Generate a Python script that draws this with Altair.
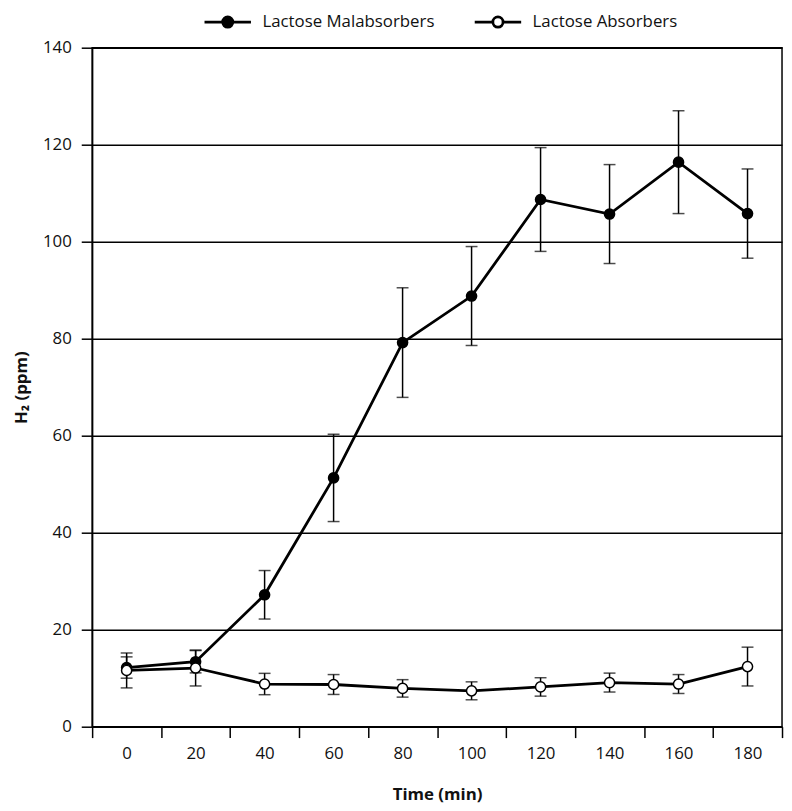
import altair as alt
import pandas as pd

times = [0, 20, 40, 60, 80, 100, 120, 140, 160, 180]
mal_mean = [12.2, 13.4, 27.2, 51.3, 79.2, 88.8, 108.7, 105.7, 116.4, 105.8]
mal_err = [2.2, 2.3, 5.0, 9.0, 11.3, 10.2, 10.7, 10.2, 10.6, 9.2]
abs_mean = [11.6, 12.1, 8.8, 8.7, 7.9, 7.4, 8.2, 9.1, 8.8, 12.4]
abs_err = [3.6, 3.7, 2.2, 2.05, 1.8, 1.85, 1.9, 1.95, 1.95, 4.0]
series = ["Lactose Malabsorbers", "Lactose Absorbers"]

rows = []
for s, means, errs in [(series[0], mal_mean, mal_err), (series[1], abs_mean, abs_err)]:
    for t, m, e in zip(times, means, errs):
        rows.append({"time": t, "series": s, "mean": m, "lo": m - e, "hi": m + e})
df = pd.DataFrame(rows)

FONT = "Open Sans"
x_enc = alt.X(
    "time:O",
    scale=alt.Scale(type="band", paddingInner=0, paddingOuter=0),
    axis=alt.Axis(
        title="Time (min)", labelAngle=0, tickBand="extent", tickSize=11,
        tickColor="black", tickWidth=1.5, domainColor="black", domainWidth=1.5,
        labelPadding=8, labelFontSize=17, labelFont=FONT, labelColor="#111111",
        titleFont=FONT, titleFontSize=17, titleFontWeight="bold", titleColor="#111111",
        titleY=69, titleBaseline="middle", grid=False,
    ),
)
y_scale = alt.Scale(domain=[0, 140], nice=False, zero=True)
y_axis = alt.Axis(
    title="H₂ (ppm)", values=list(range(0, 141, 20)), tickSize=11,
    tickColor="black", tickWidth=1.5, domainColor="black", domainWidth=1.5,
    labelPadding=10, labelFontSize=17, labelFont=FONT, labelColor="#111111",
    titleFont=FONT, titleFontSize=17, titleFontWeight="bold", titleColor="#111111",
    titleAngle=270, titleX=-71, titleY=343, titleAlign="center", titleBaseline="middle",
    grid=True, gridColor="black", gridWidth=1.5, gridOpacity=1,
)

base = alt.Chart(df)

rules = base.mark_rule(color="black", strokeWidth=1.5).encode(
    x=x_enc, y=alt.Y("lo:Q", scale=y_scale, axis=y_axis), y2="hi:Q", detail="series:N"
)
caps_hi = base.mark_tick(color="black", orient="horizontal", size=12, thickness=1.5).encode(
    x=x_enc, y=alt.Y("hi:Q", scale=y_scale), detail="series:N"
)
caps_lo = base.mark_tick(color="black", orient="horizontal", size=12, thickness=1.5).encode(
    x=x_enc, y=alt.Y("lo:Q", scale=y_scale), detail="series:N"
)
lines = base.mark_line(color="black", strokeWidth=2.8).encode(
    x=x_enc, y=alt.Y("mean:Q", scale=y_scale), detail="series:N"
)
legend_path = "M-1,0L-0.22,0M0.22,0A0.22,0.22 0 1,1 -0.22,0A0.22,0.22 0 1,1 0.22,0M0.22,0L1,0"
points = base.mark_point(filled=True, size=105, stroke="black", strokeWidth=1.5, opacity=1).encode(
    x=x_enc,
    y=alt.Y("mean:Q", scale=y_scale),
    fill=alt.Fill(
        "series:N",
        scale=alt.Scale(domain=series, range=["black", "white"]),
        legend=alt.Legend(
            title=None, orient="none", direction="horizontal", legendX=112, legendY=-51,
            symbolType=legend_path, symbolSize=2200, symbolStrokeColor="black",
            symbolStrokeWidth=2.8, labelFont=FONT, labelFontSize=17, labelColor="#111111",
            labelOffset=10, columnPadding=34, labelLimit=400,
        ),
    ),
    order=alt.Order("mean:Q", sort="descending"),
)

chart = alt.layer(rules, caps_hi, caps_lo, lines, points).properties(
    width=697, height=686,
    autosize=alt.AutoSizeParams(type="none"),
    padding={"left": 85, "top": 36, "right": 2, "bottom": 76},
).configure_view(stroke="black", strokeWidth=1.5)

chart.save("out.html", embed_options={"renderer": "svg", "actions": False})
